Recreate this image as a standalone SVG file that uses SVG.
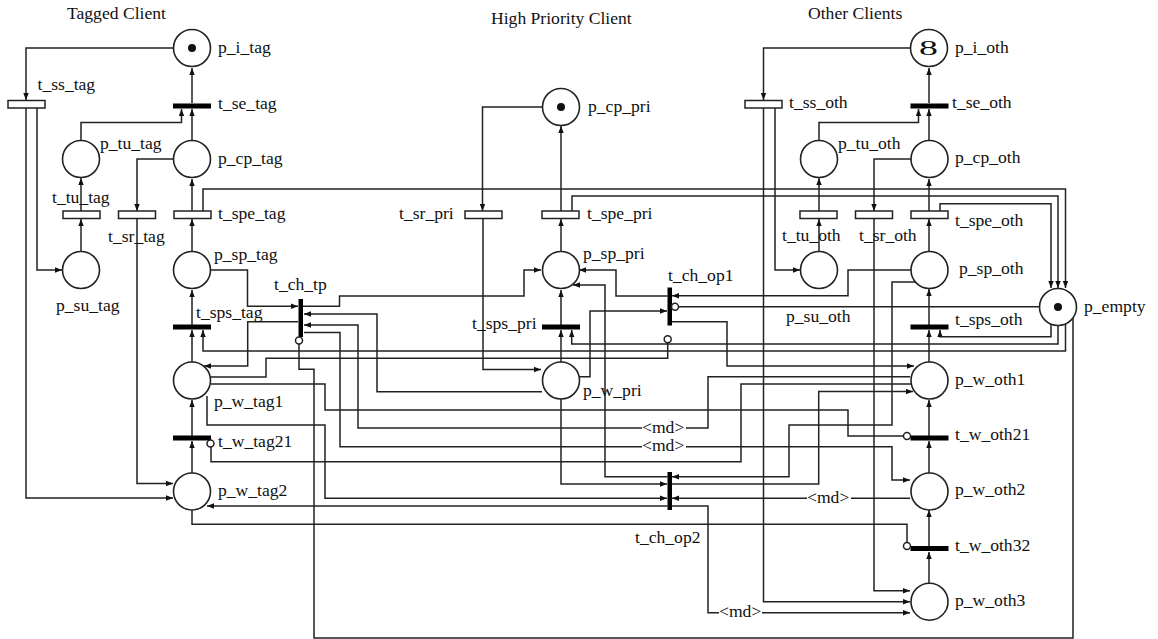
<svg xmlns="http://www.w3.org/2000/svg" width="1158" height="639" viewBox="0 0 1158 639">
<style>
text{font-family:"Liberation Serif","Times New Roman",serif;font-size:17.6px;fill:#111}
.c path{fill:none;stroke:#222;stroke-width:1.5}
.c path.a{marker-end:url(#arr)}
circle.p{fill:#fff;stroke:#222;stroke-width:1.6}
circle.i{fill:#fff;stroke:#222;stroke-width:1.5}
circle.k{fill:#111}
rect.o{fill:#fff;stroke:#222;stroke-width:1.5}
rect.b{fill:#000}
</style>
<defs><marker id="arr" markerUnits="userSpaceOnUse" markerWidth="8" markerHeight="6" refX="7" refY="3" orient="auto"><path d="M0,0.3L7,3L0,5.7z" fill="#111"/></marker></defs>
<rect width="1158" height="639" fill="#fff"/>
<g id="connectors" class="c">
<path class="a" d="M173,48H26V100"/>
<path class="a" d="M26,108V498H173"/>
<path class="a" d="M37,108V270H62"/>
<path class="a" d="M81,252V219"/>
<path class="a" d="M81,211V178"/>
<path class="a" d="M81,141V122.500H181.500V109"/>
<path class="a" d="M192,141V109"/>
<path class="a" d="M192,103V68"/>
<path class="a" d="M174,159H137V211"/>
<path class="a" d="M137,219V483.500H173"/>
<path class="a" d="M192,211V179"/>
<path class="a" d="M192,252V219"/>
<path class="a" d="M192,325V290"/>
<path class="a" d="M192,362V330"/>
<path class="a" d="M192,436V400"/>
<path class="a" d="M192,473V441"/>
<path class="a" d="M203,211V189H1065.500V288"/>
<path class="a" d="M572,211V196H1058V288"/>
<path class="a" d="M940,211V203.700H1051V288"/>
<path class="a" d="M1051,322V336.700H940V330"/>
<path class="a" d="M1058,326V344H571.700V330"/>
<path class="a" d="M1065.500,322V351H203V330"/>
<path d="M210,377H266V358.300H667.700V343"/>
<path class="a" d="M211,270H247.500V306.300H298"/>
<path class="a" d="M303,306.300H339.500V296H524V270H541"/>
<path class="a" d="M542,391.700H377V314H304"/>
<path d="M910,376.700H708V428H686"/>
<path class="a" d="M642,428H358V325H304"/>
<path d="M304,332.500H340V446.700H642"/>
<path class="a" d="M686,446.700H892V480H910"/>
<path class="a" d="M298,321.700H247.700V366H204"/>
<path d="M1073,318V638H314V369.300H299V344"/>
<path d="M211,384H325V410H848V436H904"/>
<path class="a" d="M207,396V425H325V498.300H667"/>
<path d="M211,447V461.700H741V384H911"/>
<path class="a" d="M672,321.700H727V366H914"/>
<path class="a" d="M672,484H818.700V391.500H913"/>
<path class="a" d="M917,282H892V425H789V476.700H672"/>
<path d="M910,498.300H851"/>
<path class="a" d="M807,498.300H672"/>
<path class="a" d="M667.500,506H207"/>
<path d="M672,506H708V612.700H719"/>
<path class="a" d="M762,612.700H910"/>
<path d="M192,510V524.300H907V542.500"/>
<path class="a" d="M561,399V484H667"/>
<path class="a" d="M579,376.700H590V311H667"/>
<path class="a" d="M667.500,476.700H605V285H573"/>
<path class="a" d="M667.500,296H616V270H579"/>
<path class="a" d="M911,270H848V295.700H672"/>
<path d="M678.500,306.700H1039.500"/>
<path class="a" d="M910,48H763.500V100"/>
<path class="a" d="M763.500,108V601.700H910"/>
<path class="a" d="M775,108V270H800"/>
<path class="a" d="M819,252V219"/>
<path class="a" d="M819,211V178"/>
<path class="a" d="M819,141V122.500H918.500V109"/>
<path class="a" d="M929,141V109"/>
<path class="a" d="M929,103V68"/>
<path class="a" d="M911,159H874V211"/>
<path class="a" d="M874,219V590.700H910"/>
<path class="a" d="M929,211V179"/>
<path class="a" d="M929,252V219"/>
<path class="a" d="M929,325V289"/>
<path class="a" d="M929,362V330"/>
<path class="a" d="M929,436V400"/>
<path class="a" d="M929,473V441"/>
<path class="a" d="M929,546V510"/>
<path class="a" d="M929,583V552"/>
<path class="a" d="M561,211V126"/>
<path class="a" d="M542,107H482.500V211"/>
<path class="a" d="M483,219V369.500H541"/>
<path class="a" d="M561,252V219"/>
<path class="a" d="M561,325V290"/>
<path class="a" d="M561,362V330"/>
</g>
<g id="t_md1"><text x="642" y="433">&lt;md&gt;</text></g>
<g id="t_md2"><text x="642" y="451">&lt;md&gt;</text></g>
<g id="t_md3"><text x="807" y="503">&lt;md&gt;</text></g>
<g id="t_md4"><text x="719" y="617">&lt;md&gt;</text></g>
<g id="title_tagged"><text x="67" y="19">Tagged Client</text></g>
<g id="title_high"><text x="491" y="24">High Priority Client</text></g>
<g id="title_other"><text x="808" y="19">Other Clients</text></g>

<g id="p_i_tag"><circle class="p" cx="192" cy="48" r="18.500"/><circle class="k" cx="192" cy="48" r="4"/><text x="218" y="53">p_i_tag</text></g>
<g id="p_tu_tag"><circle class="p" cx="81" cy="159" r="18.500"/><text x="100" y="149">p_tu_tag</text></g>
<g id="p_cp_tag"><circle class="p" cx="192" cy="159" r="18.500"/><text x="218" y="164">p_cp_tag</text></g>
<g id="p_su_tag"><circle class="p" cx="81" cy="270" r="18.500"/><text x="56" y="311">p_su_tag</text></g>
<g id="p_sp_tag"><circle class="p" cx="192" cy="270" r="18.500"/><text x="214" y="260">p_sp_tag</text></g>
<g id="p_w_tag1"><circle class="p" cx="192" cy="380.500" r="18.500"/><text x="214" y="407">p_w_tag1</text></g>
<g id="p_w_tag2"><circle class="p" cx="192" cy="491.500" r="18.500"/><text x="218" y="496">p_w_tag2</text></g>
<g id="t_ss_tag"><rect class="o" x="8" y="100.500" width="37" height="7.500"/><text x="37.500" y="90">t_ss_tag</text></g>
<g id="t_se_tag"><rect class="b" x="173" y="103.500" width="38" height="5"/><text x="218" y="109">t_se_tag</text></g>
<g id="t_tu_tag"><rect class="o" x="63" y="211" width="37" height="7.500"/><text x="52" y="203">t_tu_tag</text></g>
<g id="t_sr_tag"><rect class="o" x="118.500" y="211" width="37" height="7.500"/><text x="108" y="242">t_sr_tag</text></g>
<g id="t_spe_tag"><rect class="o" x="174" y="211" width="37" height="7.500"/><text x="218" y="219">t_spe_tag</text></g>
<g id="t_sps_tag"><rect class="b" x="173" y="324.500" width="38" height="5"/><text x="196" y="318">t_sps_tag</text></g>
<g id="t_w_tag21"><rect class="b" x="173" y="435.500" width="38" height="5"/><circle class="i" cx="210.500" cy="443.500" r="3.500"/><text x="218" y="447">t_w_tag21</text></g>
<g id="t_ch_tp"><rect class="b" x="298.500" y="299" width="4.500" height="38"/><circle class="i" cx="299" cy="340.500" r="3.500"/><text x="274" y="290">t_ch_tp</text></g>

<g id="p_cp_pri"><circle class="p" cx="561" cy="107" r="18.500"/><circle class="k" cx="561" cy="107" r="4"/><text x="588" y="112">p_cp_pri</text></g>
<g id="p_sp_pri"><circle class="p" cx="561" cy="270" r="18.500"/><text x="583" y="259">p_sp_pri</text></g>
<g id="p_w_pri"><circle class="p" cx="561" cy="380.500" r="18.500"/><text x="583" y="396">p_w_pri</text></g>
<g id="t_sr_pri"><rect class="o" x="465" y="211" width="37" height="7.500"/><text x="399" y="219">t_sr_pri</text></g>
<g id="t_spe_pri"><rect class="o" x="542" y="211" width="37" height="7.500"/><text x="587" y="219">t_spe_pri</text></g>
<g id="t_sps_pri"><rect class="b" x="542" y="324.500" width="38" height="5"/><text x="472" y="329">t_sps_pri</text></g>
<g id="t_ch_op1"><rect class="b" x="667.500" y="287.500" width="4.500" height="38"/><circle class="i" cx="675" cy="306.700" r="3.500"/><circle class="i" cx="667.700" cy="339.300" r="3.500"/><text x="668" y="281">t_ch_op1</text></g>
<g id="t_ch_op2"><rect class="b" x="667.500" y="472" width="4.500" height="38"/><text x="635" y="543">t_ch_op2</text></g>

<g id="p_i_oth"><circle class="p" cx="929" cy="48" r="18.500"/><text transform="translate(928.500,55) scale(1.8,1)" text-anchor="middle" style="font-size:21px">8</text><text x="955" y="53">p_i_oth</text></g>
<g id="p_tu_oth"><circle class="p" cx="819" cy="159" r="18.500"/><text x="838" y="149">p_tu_oth</text></g>
<g id="p_cp_oth"><circle class="p" cx="929.500" cy="159" r="18.500"/><text x="955" y="163">p_cp_oth</text></g>
<g id="p_su_oth"><circle class="p" cx="819" cy="270" r="18.500"/><text x="786" y="322">p_su_oth</text></g>
<g id="p_sp_oth"><circle class="p" cx="929.500" cy="270" r="18.500"/><text x="959" y="274">p_sp_oth</text></g>
<g id="p_empty"><circle class="p" cx="1058" cy="307" r="18.500"/><circle class="k" cx="1058" cy="307" r="4"/><text x="1084" y="312">p_empty</text></g>
<g id="p_w_oth1"><circle class="p" cx="929.500" cy="380.500" r="18.500"/><text x="955" y="385">p_w_oth1</text></g>
<g id="p_w_oth2"><circle class="p" cx="929.500" cy="491.500" r="18.500"/><text x="955" y="495">p_w_oth2</text></g>
<g id="p_w_oth3"><circle class="p" cx="929.500" cy="601.700" r="18.500"/><text x="955" y="606">p_w_oth3</text></g>
<g id="t_ss_oth"><rect class="o" x="745" y="100.500" width="37" height="7.500"/><text x="789" y="108">t_ss_oth</text></g>
<g id="t_se_oth"><rect class="b" x="910.500" y="103.500" width="38" height="5"/><text x="952" y="108">t_se_oth</text></g>
<g id="t_tu_oth"><rect class="o" x="800" y="211" width="37" height="7.500"/><text x="782" y="241">t_tu_oth</text></g>
<g id="t_sr_oth"><rect class="o" x="855.500" y="211" width="37" height="7.500"/><text x="859" y="241">t_sr_oth</text></g>
<g id="t_spe_oth"><rect class="o" x="911" y="211" width="37" height="7.500"/><text x="955" y="226">t_spe_oth</text></g>
<g id="t_sps_oth"><rect class="b" x="910.500" y="324.500" width="38" height="5"/><text x="955" y="325">t_sps_oth</text></g>
<g id="t_w_oth21"><rect class="b" x="910.500" y="435.500" width="38" height="5"/><circle class="i" cx="907" cy="436" r="3.500"/><text x="955" y="440">t_w_oth21</text></g>
<g id="t_w_oth32"><rect class="b" x="910.500" y="546" width="38" height="5"/><circle class="i" cx="907" cy="546" r="3.500"/><text x="955" y="551">t_w_oth32</text></g>
</svg>
